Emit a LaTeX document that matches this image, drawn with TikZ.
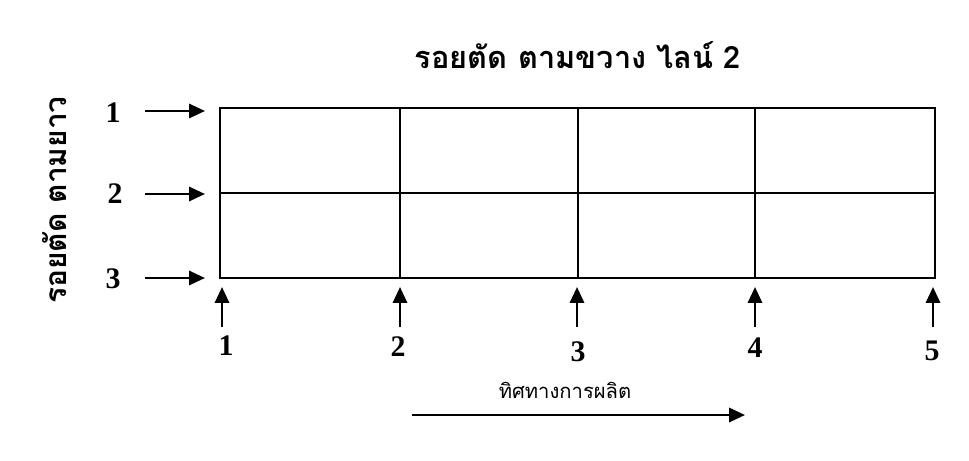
\documentclass[tikz,border=0pt]{standalone}
\usepackage{fontspec}
\setmainfont{Liberation Serif}
\newfontfamily\thaifont[Script=Thai]{Loma}
\usepackage{tikz}
\usetikzlibrary{arrows.meta}

\begin{document}
\begin{tikzpicture}[x=0.02cm,y=-0.02cm,
    gridline/.style={line width=0.9pt},
    cutarrow/.style={-{Triangle[length=9pt,width=8pt]},line width=1.5pt},
    numlabel/.style={font=\fontsize{17}{19}\selectfont\bfseries,inner sep=0pt}]
        \useasboundingbox (0,0) rectangle (969,460);
        % grid corners
        \coordinate (a1) at (220,108);
        \coordinate (a2) at (220,193);
        \coordinate (a3) at (220,278);
        \draw[gridline] (220,108) rectangle (935,278);
        \draw[gridline] (220,193) -- (935,193);
        \draw[gridline] (400,108) -- (400,278);
        \draw[gridline] (578,108) -- (578,278);
        \draw[gridline] (755,108) -- (755,278);
        % title and side label
        \node[font=\thaifont\bfseries\fontsize{17.5}{20}\selectfont] (title) at (578,55) {รอยตัด ตามขวาง ไลน์ 2};
        \node[font=\thaifont\bfseries\fontsize{17}{20}\selectfont,rotate=90] (side) at (55,200) {รอยตัด ตามยาว};
        % rows
        \node[numlabel] (r1) at (113,113) {1};
        \node[numlabel] (r2) at (115,194) {2};
        \node[numlabel] (r3) at (113,279) {3};
        \coordinate (r1s) at (145,111);
        \coordinate (r2s) at (145,194);
        \coordinate (r3s) at (145,278);
        \draw[cutarrow] (r1s) -- ([xshift=-0.3cm]a1 |- r1s);
        \draw[cutarrow] (r2s) -- ([xshift=-0.3cm]a2 |- r2s);
        \draw[cutarrow] (r3s) -- ([xshift=-0.3cm]a3 |- r3s);
        % columns
        \node[numlabel] (c1) at (226,346) {1};
        \node[numlabel] (c2) at (398,347) {2};
        \node[numlabel] (c3) at (578,352) {3};
        \node[numlabel] (c4) at (755,348) {4};
        \node[numlabel] (c5) at (932,351) {5};
        \draw[cutarrow] (222,327) -- (222,287);
        \draw[cutarrow] (400,327) -- (400,287);
        \draw[cutarrow] (577,327) -- (577,287);
        \draw[cutarrow] (755,327) -- (755,287);
        \draw[cutarrow] (933,327) -- (933,287);
        % direction
        \node[font=\thaifont\fontsize{11.5}{14}\selectfont] (dir) at (565,390) {ทิศทางการผลิต};
        \coordinate (d0) at (412,415);
        \coordinate (d1) at (745,415);
        \draw[cutarrow] (d0) -- (d1);
    \end{tikzpicture}
\end{document}
